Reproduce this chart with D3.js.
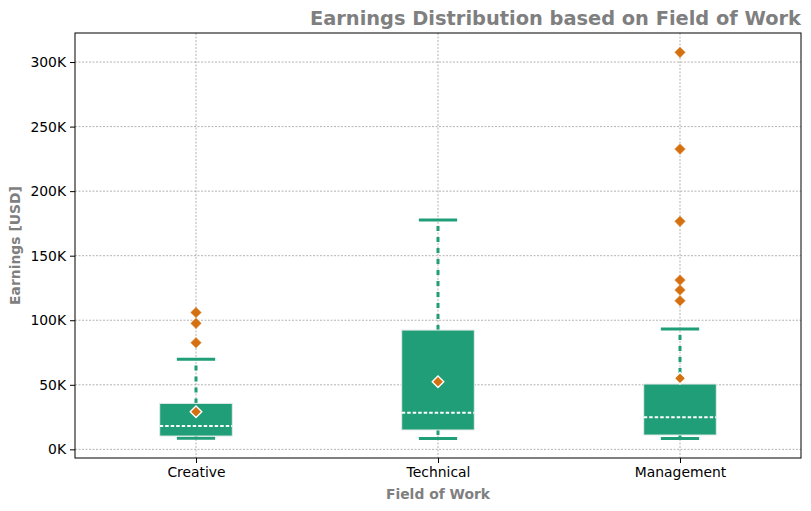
<!DOCTYPE html>
<html>
<head>
<meta charset="utf-8">
<script src="https://cdn.jsdelivr.net/npm/d3@7"></script>
<style>
body { margin: 0; background: #fff; }
svg { font-family: "DejaVu Sans", sans-serif; }
</style>
</head>
<body>
<div class="chart"></div>
<script>
// data, in thousands of USD
const fields = ['Creative', 'Technical', 'Management'];
const q1 = [10.3, 15.0, 11.1];
const medians = [18.0, 28.4, 24.8];
const q3 = [35.6, 92.4, 50.6];
const whiskLow = [8.6, 8.5, 8.5];
const whiskHigh = [69.7, 177.6, 93.2];
const means = [29.1, 52.4, 55.0];
const outliers = [
  [82.6, 97.6, 106.0],
  [],
  [115.1, 123.4, 131.1, 176.6, 232.6, 307.5]
];
const yTicks = [0, 50, 100, 150, 200, 250, 300];

const w = 811, h = 511;
const m = {top: 33, right: 10, bottom: 53, left: 75};
const green = '#1f9e77', orange = '#d4700f', grey = '#7f7f7f';
const font = '"DejaVu Sans", sans-serif';

const svg = d3.select('.chart').append('svg')
  .attr('width', w).attr('height', h);

const x = d3.scaleLinear().domain([0.5, 3.5]).range([m.left, w - m.right]);
const y = d3.scaleLinear().domain([-6.7, 322.5]).range([h - m.bottom, m.top]);
const boxW = (x(1) - x(0)) * 0.3;
const capW = boxW / 2;

const rows = fields.map((f, i) => ({f, i, q1: q1[i], med: medians[i], q3: q3[i],
  lo: whiskLow[i], hi: whiskHigh[i], mean: means[i], out: outliers[i]}));

// grid
svg.append('g').selectAll('line.hg').data(yTicks).enter().append('line')
  .attr('x1', m.left).attr('x2', w - m.right)
  .attr('y1', d => y(d)).attr('y2', d => y(d))
  .attr('stroke', grey).attr('stroke-width', 0.6).attr('stroke-dasharray', '2,1.5');
svg.append('g').selectAll('line.vg').data(rows).enter().append('line')
  .attr('x1', d => x(d.i + 1)).attr('x2', d => x(d.i + 1))
  .attr('y1', m.top).attr('y2', h - m.bottom)
  .attr('stroke', grey).attr('stroke-width', 0.6).attr('stroke-dasharray', '2,1.5');

// axes
const yAxis = svg.append('g').attr('transform', `translate(${m.left},0)`)
  .call(d3.axisLeft(y).tickValues(yTicks).tickFormat(d => d + 'K').tickSize(5).tickPadding(4));
const xAxis = svg.append('g').attr('transform', `translate(0,${h - m.bottom})`)
  .call(d3.axisBottom(x).tickValues([1, 2, 3]).tickFormat(d => fields[d - 1]).tickSize(5).tickPadding(4));
[yAxis, xAxis].forEach(a => {
  a.attr('font-family', font).attr('font-size', 13.9);
  a.select('.domain').remove();
  a.selectAll('text').attr('fill', '#000');
  a.selectAll('line').attr('stroke', '#000');
});

const g = svg.append('g');
// whiskers
g.selectAll('line.wl').data(rows).enter().append('line')
  .attr('x1', d => x(d.i + 1)).attr('x2', d => x(d.i + 1))
  .attr('y1', d => y(d.q1)).attr('y2', d => y(d.lo))
  .attr('stroke', green).attr('stroke-width', 3).attr('stroke-dasharray', '5,5');
g.selectAll('line.wh').data(rows).enter().append('line')
  .attr('x1', d => x(d.i + 1)).attr('x2', d => x(d.i + 1))
  .attr('y1', d => y(d.q3)).attr('y2', d => y(d.hi))
  .attr('stroke', green).attr('stroke-width', 3).attr('stroke-dasharray', '5,6');
// caps
['lo', 'hi'].forEach(k => {
  g.selectAll('line.cap' + k).data(rows).enter().append('line')
    .attr('x1', d => x(d.i + 1) - capW / 2 - 1).attr('x2', d => x(d.i + 1) + capW / 2 + 1)
    .attr('y1', d => y(d[k])).attr('y2', d => y(d[k]))
    .attr('stroke', green).attr('stroke-width', 3);
});
// boxes
g.selectAll('rect').data(rows).enter().append('rect')
  .attr('x', d => x(d.i + 1) - boxW / 2)
  .attr('width', boxW)
  .attr('y', d => y(d.q3))
  .attr('height', d => y(d.q1) - y(d.q3))
  .attr('fill', green).attr('stroke', '#e6ebe9').attr('stroke-width', 1);
// medians
g.selectAll('line.med').data(rows).enter().append('line')
  .attr('x1', d => x(d.i + 1) - boxW / 2).attr('x2', d => x(d.i + 1) + boxW / 2)
  .attr('y1', d => y(d.med)).attr('y2', d => y(d.med))
  .attr('stroke', '#fff').attr('stroke-width', 2).attr('stroke-dasharray', '3.5,2');

const diamond = d3.symbol().type(d3.symbolDiamond2);
// outliers
const outs = rows.flatMap(d => d.out.map(v => ({i: d.i, v})));
g.selectAll('path.out').data(outs).enter().append('path')
  .attr('d', diamond.size(72)())
  .attr('transform', d => `translate(${x(d.i + 1)},${y(d.v)})`)
  .attr('fill', orange).attr('stroke', '#e3a060').attr('stroke-width', 0.6);
// means
g.selectAll('path.mean').data(rows).enter().append('path')
  .attr('d', diamond.size(85)())
  .attr('transform', d => `translate(${x(d.i + 1)},${y(d.mean)})`)
  .attr('fill', orange).attr('stroke', '#fff').attr('stroke-width', 1.4);

// frame
svg.append('rect').attr('x', m.left).attr('y', m.top)
  .attr('width', w - m.right - m.left).attr('height', h - m.bottom - m.top)
  .attr('fill', 'none').attr('stroke', '#000').attr('stroke-width', 1);

// labels
svg.append('text').attr('x', w - m.right).attr('y', 25)
  .attr('text-anchor', 'end').attr('font-size', 19.4).attr('font-weight', 'bold')
  .attr('fill', grey).text('Earnings Distribution based on Field of Work');
svg.append('text').attr('x', (m.left + w - m.right) / 2).attr('y', 499)
  .attr('text-anchor', 'middle').attr('font-size', 13.9).attr('font-weight', 'bold')
  .attr('fill', grey).text('Field of Work');
svg.append('text')
  .attr('transform', `translate(20,${(m.top + h - m.bottom) / 2}) rotate(-90)`)
  .attr('text-anchor', 'middle').attr('font-size', 13.9).attr('font-weight', 'bold')
  .attr('fill', grey).text('Earnings [USD]');
</script>
</body>
</html>
